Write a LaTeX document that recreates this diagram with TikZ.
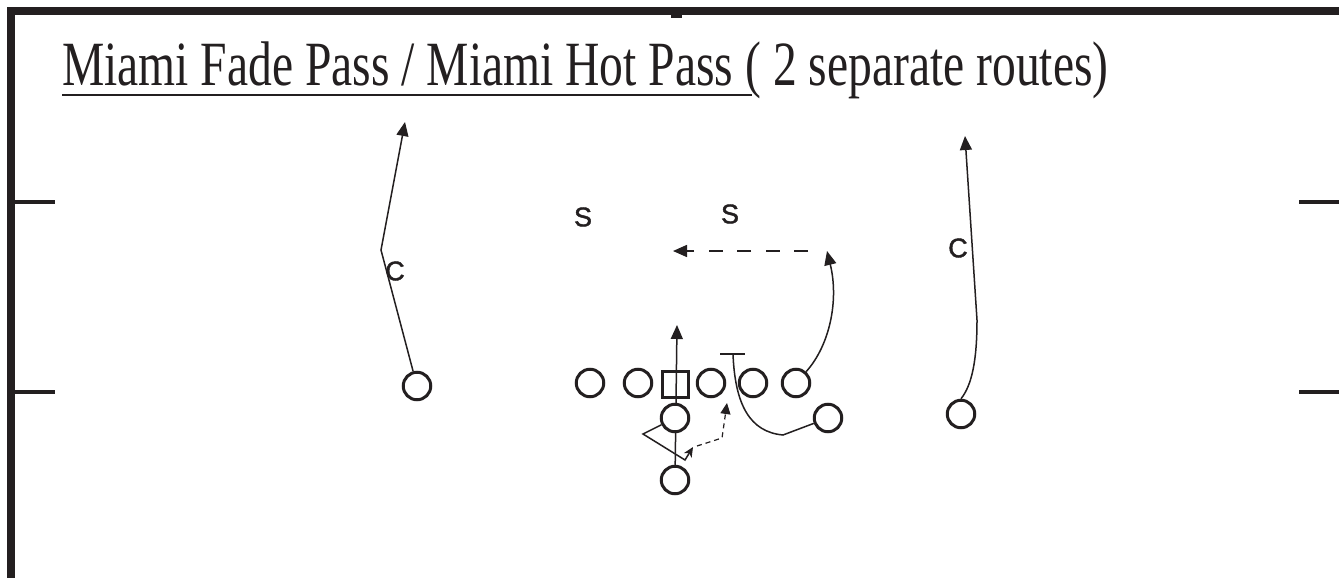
\documentclass[tikz,border=0pt]{standalone}
\usepackage{fontspec}
\setmainfont{Liberation Serif}
\newfontfamily\lblfont[FakeBold=1.5]{Liberation Sans}
\usetikzlibrary{arrows.meta,backgrounds}
\definecolor{ink}{HTML}{231F20}
\begin{document}
\begin{tikzpicture}[x=1pt,y=-1pt,
  player/.style={circle,draw=ink,line width=3pt,fill=white,minimum size=27.5pt,inner sep=0pt},
  centerbox/.style={rectangle,draw=ink,line width=3pt,minimum size=26pt,inner sep=0pt},
  route/.style={draw=ink,line width=1.5pt},
  tip/.style={-{Triangle[length=14pt,width=12pt]}},
  smalltip/.style={-{Triangle[length=11pt,width=10pt]}},
  tinytip/.style={-{Stealth[length=10pt,width=9pt,inset=3pt]}},
  lbl/.style={font=\lblfont\fontsize{27}{27}\selectfont,inner sep=0pt,text=ink},
  frameline/.style={draw=ink,line width=8.5pt,line join=miter},
  yardtick/.style={draw=ink,line width=4.5pt}]
\useasboundingbox (0,0) rectangle (1339,578);

% frame and yard ticks
\draw[frameline] (11,578) -- (11,11) -- (1339,11);
\draw[yardtick] (15,202) -- (55,202);
\draw[yardtick] (15,392) -- (55,392);
\draw[yardtick] (1299,202) -- (1339,202);
\draw[yardtick] (1299,392) -- (1339,392);
\fill[ink] (671,14) rectangle (682,18);

% title
\node[anchor=base west,inner sep=0pt,text=ink,font=\fontsize{63}{63}\selectfont] (title) at (62,85)
  {\scalebox{0.755}[1]{Miami Fade Pass / Miami Hot Pass ( 2 separate routes)}};
\draw[ink,line width=2.2pt] (62,95) -- (752,95);

% players
\node[player] (lwr) at (417,386) {};
\node[player] (lt) at (590,383) {};
\node[player] (lg) at (638,383) {};
\node[centerbox] (ctr) at (675,384) {};
\node[player] (rg) at (711,383) {};
\node[player] (rt) at (753,383) {};
\node[player] (te) at (796,383) {};
\node[player] (wing) at (828,418) {};
\node[player] (qb) at (675,418) {};
\node[player] (rb) at (675,480) {};
\node[player] (rwr) at (961,414) {};

% labels
\node[lbl] (c1) at (395,271) {C};
\node[lbl] (c2) at (958,248) {C};
\node[lbl] (s1) at (583,217) {S};
\node[lbl] (s2) at (730,214) {S};

% route points
\coordinate (lbreak) at (381,250);
\coordinate (lend) at (405,122);
\coordinate (rend) at (965,136);
\coordinate (teend) at (827,251);
\coordinate (d1) at (808,251);
\coordinate (d2) at (673,251);
\coordinate (rbend) at (677,325);
\coordinate (tbar) at (733,354);
\coordinate (tbarl) at (720,354);
\coordinate (tbarr) at (745,354);
\coordinate (bk) at (783,435);
\coordinate (q1) at (643,434);
\coordinate (q2) at (685,460);
\coordinate (q3) at (693,447);
\coordinate (h1) at (697,446);
\coordinate (h2) at (722,438);
\coordinate (h3) at (727,403);

\begin{scope}[on background layer]
\fill[white] (0,0) rectangle (1339,578);
\draw[route,tip] (lwr) -- (lbreak) -- (lend);
\draw[route,tip] (rwr.north) .. controls (972,385) and (977,360) .. (977,320) -- (rend);
\draw[route,tip] (te) .. controls (830,345) and (839,300) .. (teend);
\draw[route,tip,dash pattern=on 14pt off 14.5pt] (d1) -- (d2);
\draw[route,tip] (rb) -- (rbend);
\draw[route] (tbarl) -- (tbarr);
\draw[route] (tbar) .. controls (735,405) and (750,432) .. (bk) -- (wing);
\draw[route,tinytip] (qb) -- (q1) -- (q2) -- (q3);
\draw[route,smalltip,line width=1.2pt,dash pattern=on 5pt off 4pt] (h1) -- (h2) -- (h3);
\end{scope}
\end{tikzpicture}
\end{document}
